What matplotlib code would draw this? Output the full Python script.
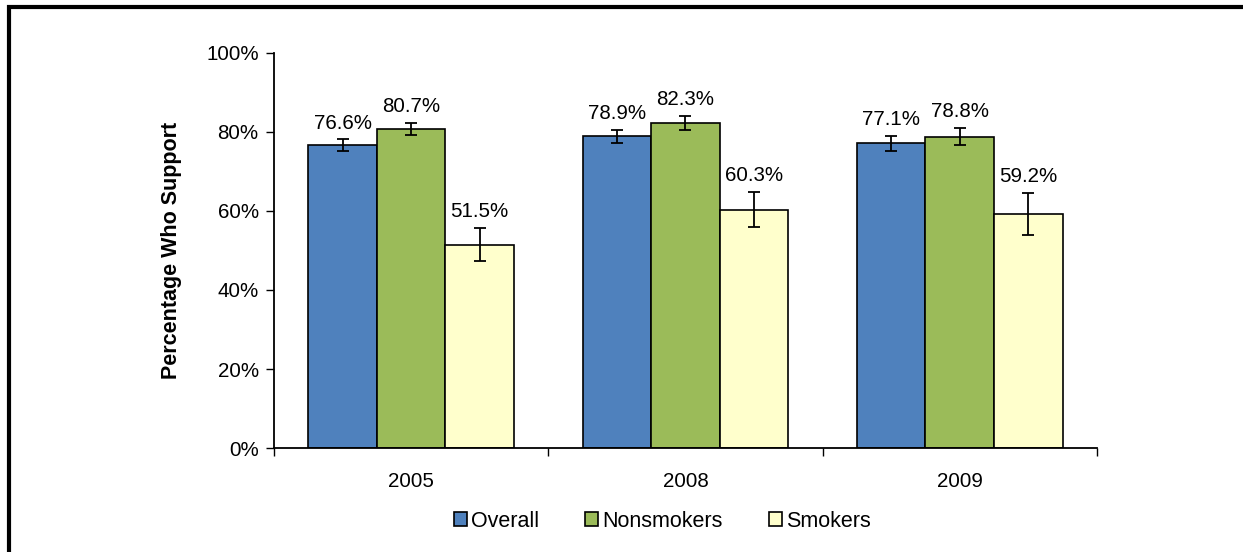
import numpy as np
import matplotlib
matplotlib.use('Agg')
import matplotlib.pyplot as plt
from matplotlib.patches import Rectangle

plt.rcParams['font.family'] = ['Liberation Sans', 'DejaVu Sans']

years = ['2005', '2008', '2009']
groups = ['Overall', 'Nonsmokers', 'Smokers']
overall = [76.6, 78.9, 77.1]
nonsmokers = [80.7, 82.3, 78.8]
smokers = [51.5, 60.3, 59.2]
overall_err = [1.5, 1.7, 1.9]
nonsmokers_err = [1.5, 1.7, 2.2]
smokers_err = [4.2, 4.4, 5.3]
colors = ['#4F81BD', '#9BBB59', '#FFFFCC']

fig = plt.figure(figsize=(12.43, 5.52), dpi=100)
ax = fig.add_axes([0.2204, 0.1884, 0.6621, 0.7156])

# outer frame like the original slide box
fig.patches.append(Rectangle((8.5 / 1243, -0.1), 1.2, 1.1 - 7.5 / 552,
                             transform=fig.transFigure, fill=False,
                             edgecolor='black', linewidth=3, zorder=0))

x = np.arange(len(years))
w = 0.25
series = [overall, nonsmokers, smokers]
errs = [overall_err, nonsmokers_err, smokers_err]
for i, (vals, err) in enumerate(zip(series, errs)):
    pos = x + (i - 1) * w
    ax.bar(pos, vals, w, color=colors[i], edgecolor='black', linewidth=1.2,
           label=groups[i], zorder=2)
    ax.errorbar(pos, vals, yerr=err, fmt='none', ecolor='black',
                elinewidth=1.3, capsize=4, capthick=1.3, zorder=3)
    for p, v, e in zip(pos, vals, err):
        ax.annotate(f'{v:.1f}%', (p, v + e), xytext=(0, 5),
                    textcoords='offset points', ha='center', va='bottom',
                    fontsize=14.8)

ax.set_xlim(-0.5, 2.5)
ax.set_ylim(0, 100)
ax.set_yticks(np.arange(0, 101, 20))
ax.set_yticklabels([f'{t}%' for t in range(0, 101, 20)], fontsize=14.8)
ax.set_xticks(x)
ax.set_xticklabels(years, fontsize=14.8)
ax.set_xticks([-0.5, 0.5, 1.5, 2.5], minor=True)
ax.tick_params(axis='x', which='major', length=0, pad=17)
ax.tick_params(axis='x', which='minor', length=6, width=1, direction='out')
ax.tick_params(axis='y', length=6, width=1, direction='out', pad=5)
ax.spines['top'].set_visible(False)
ax.spines['right'].set_visible(False)
ax.spines['left'].set_linewidth(1.3)
ax.spines['bottom'].set_linewidth(1.3)
ax.set_ylabel('Percentage Who Support', fontsize=15.5, fontweight='bold', labelpad=17)

ax.legend(loc='upper center', bbox_to_anchor=(0.472, -0.11), ncol=3,
          frameon=False, fontsize=15.5, handlelength=0.6, handleheight=0.6,
          handletextpad=0.2, columnspacing=2.15)

fig.savefig('out.png', dpi=100)
